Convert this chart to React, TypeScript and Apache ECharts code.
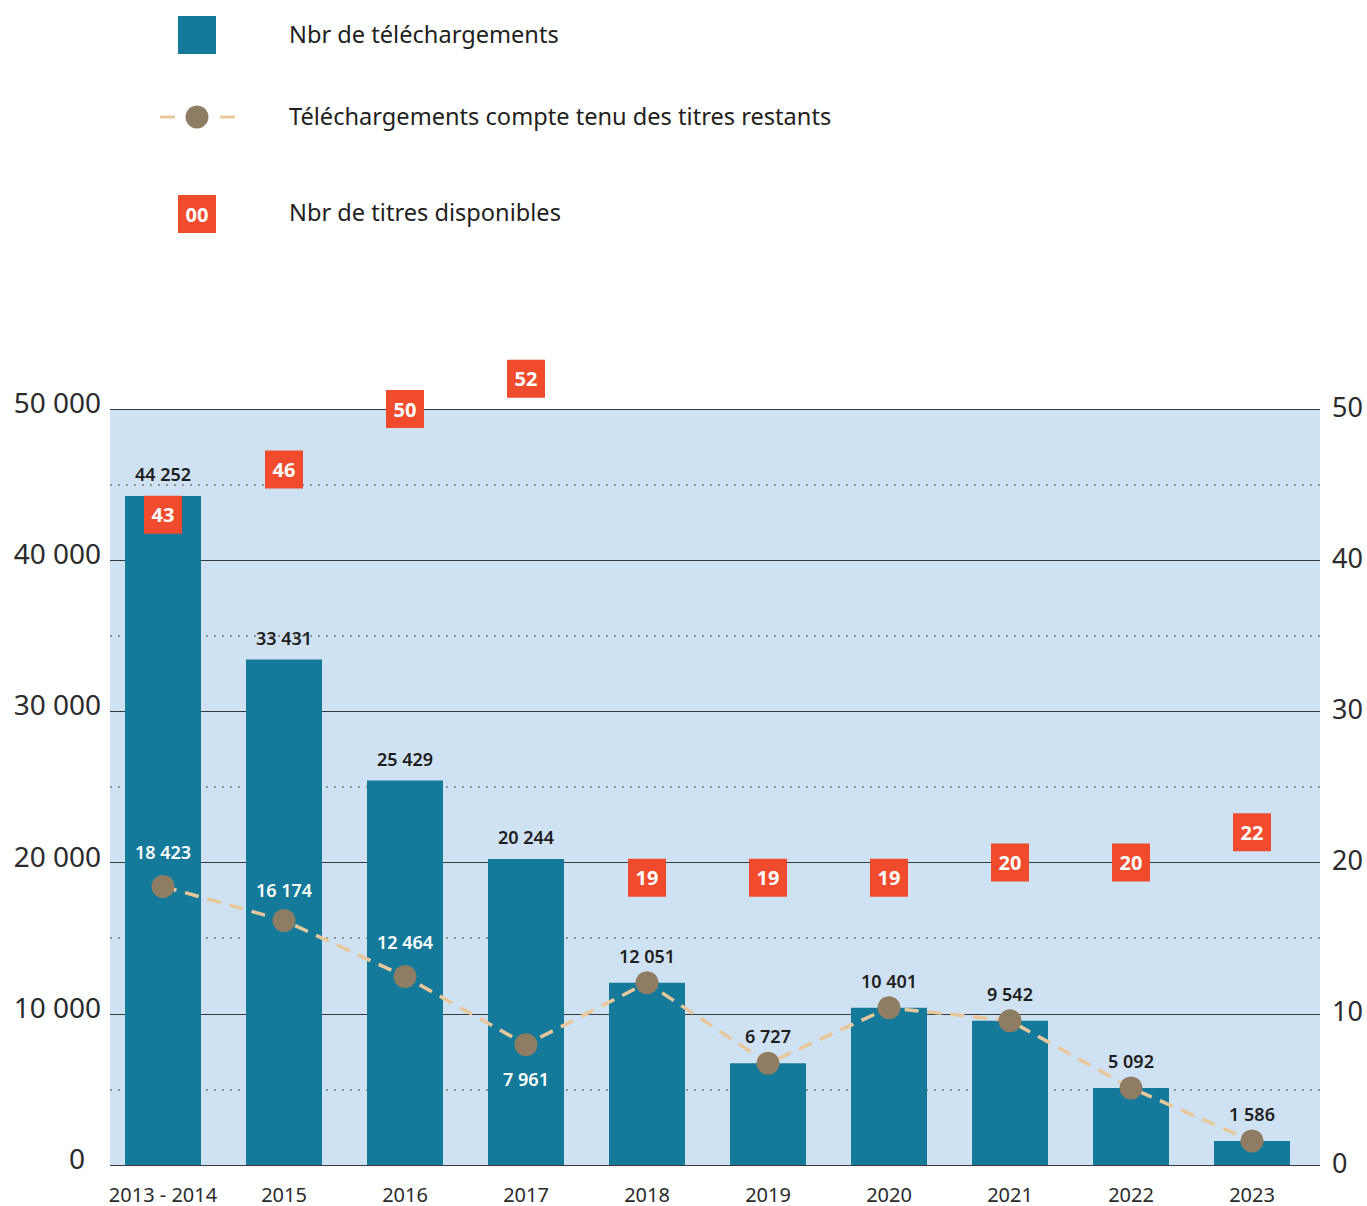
import React, { useEffect, useRef } from "react";
import * as echarts from "echarts";

const categories = ["2013 - 2014", "2015", "2016", "2017", "2018", "2019", "2020", "2021", "2022", "2023"];
const downloads = [44252, 33431, 25429, 20244, 12051, 6727, 10401, 9542, 5092, 1586];
const remaining = [18423, 16174, 12464, 7961, 12051, 6727, 10401, 9542, 5092, 1586];
const titles = [43, 46, 50, 52, 19, 19, 19, 20, 20, 22];
// which points show a label on the line (first four years), others label on bar
const lineLabelPos = ["top", "top", "top", "bottom", null, null, null, null, null, null];

const legendLabels = [
  "Nbr de téléchargements",
  "Téléchargements compte tenu des titres restants",
  "Nbr de titres disponibles",
];

const TEAL = "#157a99";
const RED = "#f04b2c";
const DASH = "#e8c79b";
const MARK = "#8f7d63";
const BG = "#cfe2f3";
const FONT = "'Noto Sans', sans-serif";

const fmt = (v: number) => String(v).replace(/\B(?=(\d{3})+(?!\d))/g, " ");

export default function App() {
  const ref = useRef<HTMLDivElement>(null);
  useEffect(() => {
    document.body.style.margin = "0";
    const chart = echarts.init(ref.current!, null, { renderer: "svg" });
    const top = 409;
    const height = 756;
    const option: any = {
      animation: false,
      textStyle: { fontFamily: FONT },
      grid: [
        { left: 110, width: 1210, top, height, show: true, backgroundColor: BG, borderWidth: 0, z: 0 },
        { left: 102.5, width: 1210, top, height, show: false },
      ],
      xAxis: [
        { type: "category", gridIndex: 0, data: categories, show: false },
        {
          type: "category",
          gridIndex: 1,
          data: categories,
          axisLine: { show: false },
          axisTick: { show: false },
          axisLabel: { interval: 0, color: "#2b2b2b", fontSize: 20, margin: 19, fontFamily: FONT },
        },
      ],
      yAxis: [
        {
          type: "value",
          gridIndex: 0,
          min: 0,
          max: 50000,
          interval: 10000,
          position: "left",
          axisLine: { show: false },
          axisTick: { show: false },
          axisLabel: {
            color: "#2b2b2b",
            fontSize: 28,
            margin: 9,
            verticalAlign: "bottom",
            lineHeight: 14,
            fontFamily: FONT,
            formatter: (v: number) => (v === 0 ? "{z|0}" : fmt(v)),
            rich: {
              z: { fontSize: 28, color: "#2b2b2b", padding: [0, 16, 0, 0], lineHeight: 14, fontFamily: FONT },
            },
          },
          splitLine: { show: true, lineStyle: { color: "#3a3a3a", width: 1.2 } },
          minorTick: { show: false, splitNumber: 2 },
          minorSplitLine: { show: true, lineStyle: { color: "#7a7a7a", type: [2, 6], width: 1.5 } },
        },
        {
          type: "value",
          gridIndex: 0,
          min: 0,
          max: 50,
          interval: 10,
          position: "right",
          axisLine: { show: false },
          axisTick: { show: false },
          splitLine: { show: false },
          axisLabel: {
            color: "#2b2b2b",
            fontSize: 27,
            margin: 12,
            verticalAlign: "bottom",
            lineHeight: 6,
            fontFamily: FONT,
          },
        },
        { type: "value", gridIndex: 1, min: 0, max: 50000, show: false, splitLine: { show: false } },
        { type: "value", gridIndex: 1, min: 0, max: 50, show: false, splitLine: { show: false } },
      ],
      series: [
        {
          type: "bar",
          name: legendLabels[0],
          xAxisIndex: 1,
          yAxisIndex: 2,
          barWidth: 76,
          z: 2,
          itemStyle: { color: TEAL },
          data: downloads.map((v, i) => ({
            value: v,
            label: { distance: i < 4 ? 13 : 18 },
          })),
          label: {
            show: true,
            position: "top",
            color: "#1e1e1e",
            fontSize: 18,
            fontWeight: 600,
            fontFamily: FONT,
            formatter: (p: any) => fmt(p.value),
          },
        },
        {
          type: "line",
          name: legendLabels[1],
          xAxisIndex: 1,
          yAxisIndex: 2,
          z: 4,
          symbol: "circle",
          symbolSize: 23,
          lineStyle: { color: DASH, width: 3.5, type: [14, 9] },
          itemStyle: { color: MARK },
          data: remaining.map((v, i) => ({
            value: v,
            label: lineLabelPos[i]
              ? { show: true, position: lineLabelPos[i], distance: i === 1 ? 10 : 14 }
              : { show: false },
          })),
          label: {
            color: "#ffffff",
            fontSize: 18,
            fontWeight: 600,
            fontFamily: FONT,
            formatter: (p: any) => fmt(p.value),
          },
        },
        {
          type: "scatter",
          name: legendLabels[2],
          xAxisIndex: 1,
          yAxisIndex: 3,
          z: 5,
          clip: false,
          symbol: "rect",
          symbolSize: 38,
          itemStyle: { color: RED, opacity: 1 },
          data: titles,
          label: {
            show: true,
            position: "inside",
            color: "#ffffff",
            fontSize: 20,
            fontWeight: "bold",
            fontFamily: FONT,
          },
        },
      ],
      graphic: [
        { type: "rect", shape: { x: 178, y: 16, width: 38, height: 38 }, style: { fill: TEAL } },
        { type: "line", shape: { x1: 160, y1: 117, x2: 175, y2: 117 }, style: { stroke: DASH, lineWidth: 3 } },
        { type: "line", shape: { x1: 220, y1: 117, x2: 235, y2: 117 }, style: { stroke: DASH, lineWidth: 3 } },
        { type: "circle", shape: { cx: 197, cy: 117, r: 11.5 }, style: { fill: MARK } },
        { type: "rect", shape: { x: 178, y: 195, width: 38, height: 38 }, style: { fill: RED } },
        {
          type: "text",
          x: 197,
          y: 214,
          style: { text: "00", fill: "#fff", font: `bold 20px ${FONT}`, align: "center", verticalAlign: "middle" },
        },
        ...legendLabels.map((t, i) => ({
          type: "text",
          x: 289,
          y: [34, 116, 212][i],
          style: { text: t, fill: "#231f20", font: `23.6px ${FONT}`, align: "left", verticalAlign: "middle" },
        })),
      ],
    };
    chart.setOption(option);
    return () => chart.dispose();
  }, []);
  return <div ref={ref} style={{ width: 1367, height: 1206 }} />;
}
